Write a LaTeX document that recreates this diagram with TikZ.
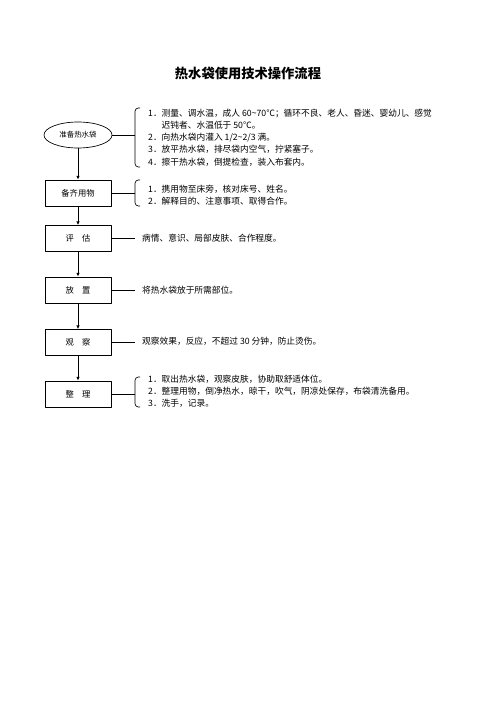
\documentclass[tikz,border=0pt]{standalone}
\usepackage{fontspec}
\setmainfont{Noto Sans CJK SC}
\usetikzlibrary{shapes.geometric,arrows.meta}

\begin{document}
\begin{tikzpicture}[
  x=0.42339mm,
  y=-0.42339mm,
  line join=round,
  stepbox/.style={draw,line width=0.8pt,minimum width=27.94mm,minimum height=11.0mm,inner sep=0pt,font=\fontsize{10}{12}\selectfont},
  startoval/.style={ellipse,draw,line width=0.8pt,minimum width=28.8mm,minimum height=11.0mm,inner sep=0pt,font=\fontsize{9}{10}\selectfont},
  flow/.style={draw,line width=0.9pt,-{Latex[length=4.5pt,width=4pt]}},
  link/.style={draw,line width=0.9pt},
  bracket/.style={draw,line width=0.8pt,rounded corners=4pt},
  note/.style={anchor=west,align=left,inner sep=0pt,font=\fontsize{10.5}{14.7}\selectfont}
]
  % Page frame in pixels of the reference sheet.
  \useasboundingbox (0,0) rectangle (496.000,702.000);

  % Title.
  \node[font=\fontsize{16}{18}\selectfont\bfseries] (title) at (248.000,73.000) {热水袋使用技术操作流程};

  % Steps down the left column.
  \node[startoval] (prep) at (78.000,135.000) {准备热水袋};
  \node[stepbox] (gather) at (78.000,193.000) {备齐用物};
  \node[stepbox] (assess) at (78.000,238.500) {评\hspace{1em}估};
  \node[stepbox] (place) at (78.000,290.000) {放\hspace{1em}置};
  \node[stepbox] (watch) at (78.000,342.500) {观\hspace{1em}察};
  \node[stepbox] (tidy) at (78.000,394.000) {整\hspace{1em}理};

  % Arrows between the steps.
  \draw[flow] (prep) -- (gather);
  \draw[flow] (gather) -- (assess);
  \draw[flow] (assess) -- (place);
  \draw[flow] (place) -- (watch);
  \draw[flow] (watch) -- (tidy);

  % Points where each step meets its notes.
  \coordinate (prepend) at (135.000,135.000);
  \coordinate (gatherend) at (135.000,193.000);
  \coordinate (assessend) at (135.000,238.500);
  \coordinate (placeend) at (135.000,290.000);
  \coordinate (watchend) at (135.000,342.500);
  \coordinate (tidyend) at (135.000,394.000);

  \draw[link] (prep.east) -- (prepend);
  \draw[link] (gather.east) -- (gatherend);
  \draw[link] (assess.east) -- (assessend);
  \draw[link] (place.east) -- (placeend);
  \draw[link] (watch.east) -- (watchend);
  \draw[link] (tidy.east) -- (tidyend);

  % Brackets in front of the multi-line notes.
  \draw[bracket] (140.000,108.000) -- (135.000,108.000) -- (135.000,167.000) -- (140.000,167.000);
  \draw[bracket] (140.000,180.000) -- (135.000,180.000) -- (135.000,206.000) -- (140.000,206.000);
  \draw[bracket] (140.000,377.000) -- (135.000,377.000) -- (135.000,407.000) -- (140.000,407.000);

  % Notes.
  \node[note] (prepnote) at (148.000,137.500) {1．测量、调水温，成人 60\textasciitilde70℃；循环不良、老人、昏迷、婴幼儿、感觉\\
    \phantom{1．}迟钝者、水温低于 50℃。\\
    2．向热水袋内灌入 1/2\textasciitilde2/3 满。\\
    3．放平热水袋，排尽袋内空气，拧紧塞子。\\
    4．擦干热水袋，倒提检查，装入布套内。};
  \node[note] (gathernote) at (148.000,195.000) {1．携用物至床旁，核对床号、姓名。\\
    2．解释目的、注意事项、取得合作。};
  \node[note] (assessnote) at (142.000,238.000) {病情、意识、局部皮肤、合作程度。};
  \node[note] (placenote) at (142.000,290.000) {将热水袋放于所需部位。};
  \node[note] (watchnote) at (142.000,341.000) {观察效果，反应，不超过 30 分钟，防止烫伤。};
  \node[note] (tidynote) at (148.000,391.000) {1．取出热水袋，观察皮肤，协助取舒适体位。\\
    2．整理用物，倒净热水，晾干，吹气，阴凉处保存，布袋清洗备用。\\
    3．洗手，记录。};
\end{tikzpicture}
\end{document}
